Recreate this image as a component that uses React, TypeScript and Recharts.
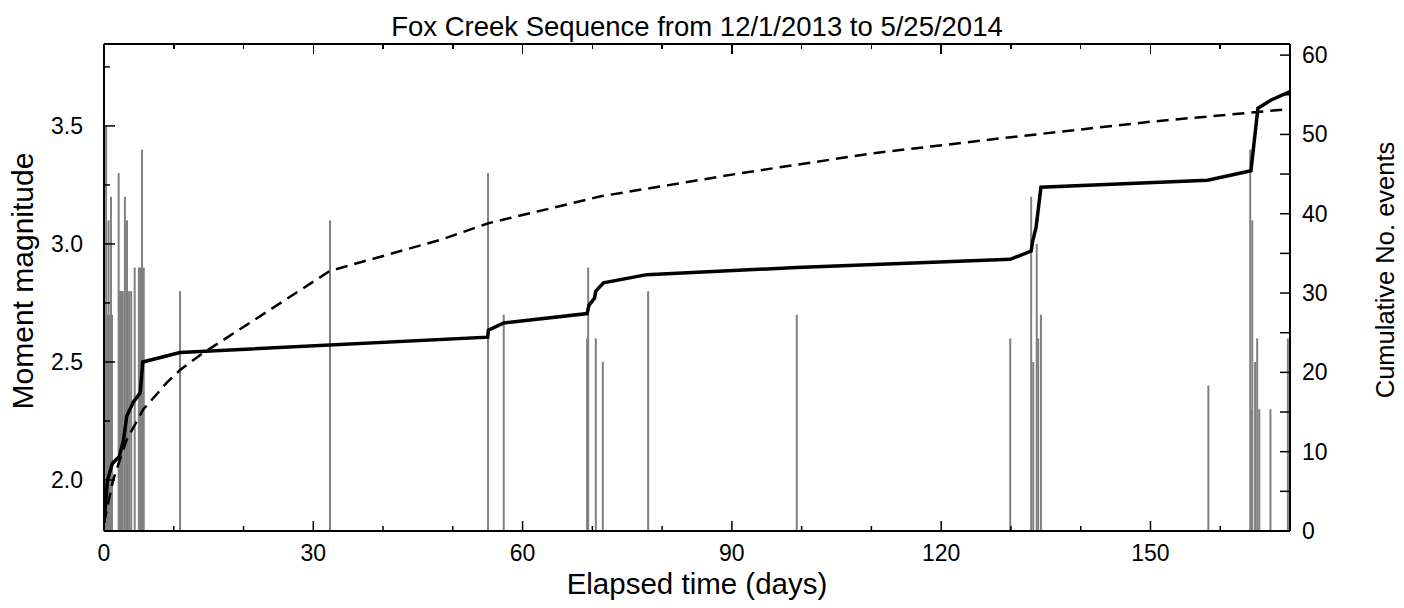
import React from 'react';
import {
  ComposedChart, Bar, Line, XAxis, YAxis,
} from 'recharts';

// individual events (elapsed days, moment magnitude)
const eventDays = [
  0.1, 0.3, 0.45, 0.65, 0.8, 1.0, 1.15, 2.1, 2.3, 2.5, 2.7, 3.0, 3.3, 3.6, 3.9, 4.4, 5.0, 5.2, 5.45, 5.7,
  10.9, 32.4, 55.05, 57.3, 69.25, 69.4, 70.5, 71.5, 78.0, 99.3,
  129.9, 132.9, 133.2, 133.7, 133.9, 134.3, 158.3,
  164.3, 164.45, 164.6, 165.0, 165.3, 165.6, 167.2, 169.7,
];
const eventMags = [
  2.7, 3.5, 2.7, 3.1, 2.7, 3.2, 2.7, 3.3, 2.8, 2.8, 2.8, 3.2, 3.1, 2.8, 2.8, 2.9, 2.9, 2.9, 3.4, 2.9,
  2.8, 3.1, 3.3, 2.7, 2.6, 2.9, 2.6, 2.5, 2.8, 2.7,
  2.6, 3.2, 2.5, 3.0, 2.6, 2.7, 2.4,
  3.4, 2.3, 3.1, 2.5, 2.6, 2.3, 2.3, 2.6,
];

// cumulative moment expressed as magnitude (solid line)
const cumDays = [
  0, 0.5, 1.2, 2.2, 2.8, 3.25, 4.2, 5.2, 5.55, 10.9, 55.0, 55.1, 57.3, 69.25, 69.5, 70.3, 70.5, 71.6,
  77.8, 99.3, 129.9, 132.9, 133.1, 133.6, 134.3, 158.2, 164.4, 165.4, 167.3, 170,
];
const cumMags = [
  1.82, 2.0, 2.07, 2.1, 2.17, 2.27, 2.33, 2.37, 2.5, 2.54, 2.605, 2.635, 2.665, 2.705, 2.74, 2.77, 2.8, 2.835,
  2.87, 2.9, 2.935, 2.97, 3.01, 3.07, 3.24, 3.27, 3.31, 3.575, 3.61, 3.645,
];

// cumulative number of events (dashed line, right axis)
const countDays = [0, 1.3, 3.25, 5.6, 9.0, 10.9, 13.8, 21, 32.4, 48.2, 55.1, 71.2, 91.2, 110, 128.5, 150, 170];
const counts = [1, 6.4, 11.5, 15.3, 18.7, 20.3, 22.2, 26.3, 32.8, 36.7, 38.8, 42.2, 45.1, 47.6, 49.5, 51.6, 53.2];

const xTicks = [0, 10, 20, 30, 40, 50, 60, 70, 80, 90, 100, 110, 120, 130, 140, 150, 160, 170];
const magTicks = [2.0, 2.25, 2.5, 2.75, 3.0, 3.25, 3.5, 3.75];
const countTicks = [0, 5, 10, 15, 20, 25, 30, 35, 40, 45, 50, 55, 60];
const xDomain = [0, 170];

const FONT = '"Liberation Sans", Arial, Helvetica, sans-serif';

// plot frame layout
const W = 1404;
const H = 608;
const PLOT_LEFT = 104;
const PLOT_WIDTH = 1186;
const PLOT_TOP = 44;

// merge everything into one table keyed by day
const buildRows = () => {
  const map = new Map<number, any>();
  const get = (d: number) => {
    if (!map.has(d)) map.set(d, { day: d });
    return map.get(d);
  };
  eventDays.forEach((d, i) => { get(d).mag = eventMags[i]; });
  cumDays.forEach((d, i) => { get(d).cum = cumMags[i]; });
  countDays.forEach((d, i) => { get(d).count = counts[i]; });
  return Array.from(map.values()).sort((a, b) => a.day - b.day);
};
const rows = buildRows();

const BottomTick = ({ x, y, payload }: any) => {
  const major = payload.value % 30 === 0;
  return (
    <g>
      <line x1={x} x2={x} y1={y} y2={y - (major ? 10 : 5)} stroke="#000" strokeWidth={1.5} />
      {major && (
        <text x={x} y={y + 30} textAnchor="middle" fontSize={23} fontFamily={FONT} fill="#000">
          {payload.value}
        </text>
      )}
    </g>
  );
};

const LeftTick = ({ x, y, payload }: any) => {
  const major = Math.abs(payload.value * 2 - Math.round(payload.value * 2)) < 1e-6;
  return (
    <g>
      <line x1={x} x2={x + (major ? 11 : 6)} y1={y} y2={y} stroke="#000" strokeWidth={1.5} />
      {major && (
        <text x={x - 21} y={y + 8} textAnchor="end" fontSize={23} fontFamily={FONT} fill="#000">
          {payload.value.toFixed(1)}
        </text>
      )}
    </g>
  );
};

const RightTick = ({ x, y, payload }: any) => {
  const major = payload.value % 10 === 0;
  return (
    <g>
      <line x1={x} x2={x - 10} y1={y} y2={y} stroke="#000" strokeWidth={1.5} />
      {major && (
        <text x={x + 12} y={y + 8} textAnchor="start" fontSize={23} fontFamily={FONT} fill="#000">
          {payload.value}
        </text>
      )}
    </g>
  );
};

// thin stem for each event, centred on its day
const Stem = (props: any) => {
  const { x, y, width, height } = props;
  if (!height || height <= 0) return null;
  return <rect x={x + width / 2 - 1} y={y} width={2} height={height} fill="#808080" />;
};

// top frame with the mirrored time ticks, laid over the chart
const TopFrame = () => (
  <div style={{ position: 'absolute', left: PLOT_LEFT, top: PLOT_TOP - 1, width: PLOT_WIDTH, height: 12, pointerEvents: 'none' }}>
    <div style={{ position: 'absolute', left: 0, top: 0, width: PLOT_WIDTH, height: 2, background: '#000' }} />
    {xTicks.map((t) => (
      <div
        key={t}
        style={{
          position: 'absolute',
          left: ((t - xDomain[0]) / (xDomain[1] - xDomain[0])) * PLOT_WIDTH - 0.75,
          top: 1,
          width: 1.5,
          height: t % 30 === 0 ? 10 : 5,
          background: '#000',
        }}
      />
    ))}
  </div>
);

const axisLine = { stroke: '#000', strokeWidth: 2 };

const vLabel = (size: number): React.CSSProperties => ({
  position: 'absolute', transform: 'translate(-50%, -50%) rotate(-90deg)', whiteSpace: 'nowrap',
  fontSize: size, lineHeight: 1, color: '#000', fontFamily: FONT,
});

export default function App() {
  return (
    <div style={{ position: 'absolute', left: 0, top: 0, width: W, height: H, background: '#fff', fontFamily: FONT }}>
      <div
        style={{
          position: 'absolute', left: PLOT_LEFT, width: PLOT_WIDTH, top: 13, textAlign: 'center',
          fontSize: 27.5, lineHeight: 1, color: '#000', fontFamily: FONT,
        }}
      >
        Fox Creek Sequence from 12/1/2013 to 5/25/2014
      </div>
      <div
        style={{
          position: 'absolute', left: PLOT_LEFT, width: PLOT_WIDTH, top: 569, textAlign: 'center',
          fontSize: 29.5, lineHeight: 1, color: '#000', fontFamily: FONT,
        }}
      >
        Elapsed time (days)
      </div>
      <div style={{ ...vLabel(30), left: 23, top: 281 }}>Moment magnitude</div>
      <div style={{ ...vLabel(25.5), left: 1386, top: 270 }}>Cumulative No. events</div>
      <ComposedChart
        width={W}
        height={H}
        data={rows}
        margin={{ top: PLOT_TOP, right: 0, bottom: 0, left: 0 }}
        style={{ position: 'absolute', left: 0, top: 0 }}
      >
        <XAxis
          dataKey="day"
          type="number"
          domain={xDomain}
          ticks={xTicks}
          allowDataOverflow
          height={77}
          axisLine={axisLine}
          tickLine={false}
          tickSize={0}
          tickMargin={0}
          tick={(p: any) => <BottomTick {...p} />}
          interval={0}
        />
        <YAxis
          yAxisId="mag"
          type="number"
          domain={[1.784, 3.847]}
          ticks={magTicks}
          allowDataOverflow
          width={PLOT_LEFT}
          axisLine={axisLine}
          tickLine={false}
          tickSize={0}
          tickMargin={0}
          tick={(p: any) => <LeftTick {...p} />}
          interval={0}
        />
        <YAxis
          yAxisId="count"
          orientation="right"
          type="number"
          domain={[0, 61.4]}
          ticks={countTicks}
          allowDataOverflow
          width={W - PLOT_LEFT - PLOT_WIDTH}
          axisLine={axisLine}
          tickLine={false}
          tickSize={0}
          tickMargin={0}
          tick={(p: any) => <RightTick {...p} />}
          interval={0}
        />
        <Bar
          yAxisId="mag"
          dataKey="mag"
          fill="#808080"
          barSize={2}
          shape={(p: any) => <Stem {...p} />}
          isAnimationActive={false}
        />
        <Line
          yAxisId="count"
          type="linear"
          dataKey="count"
          stroke="#000"
          strokeWidth={2.5}
          strokeDasharray="12 7"
          dot={false}
          connectNulls
          isAnimationActive={false}
        />
        <Line
          yAxisId="mag"
          type="linear"
          dataKey="cum"
          stroke="#000"
          strokeWidth={3.5}
          dot={false}
          connectNulls
          isAnimationActive={false}
        />
      </ComposedChart>
      <TopFrame />
    </div>
  );
}
